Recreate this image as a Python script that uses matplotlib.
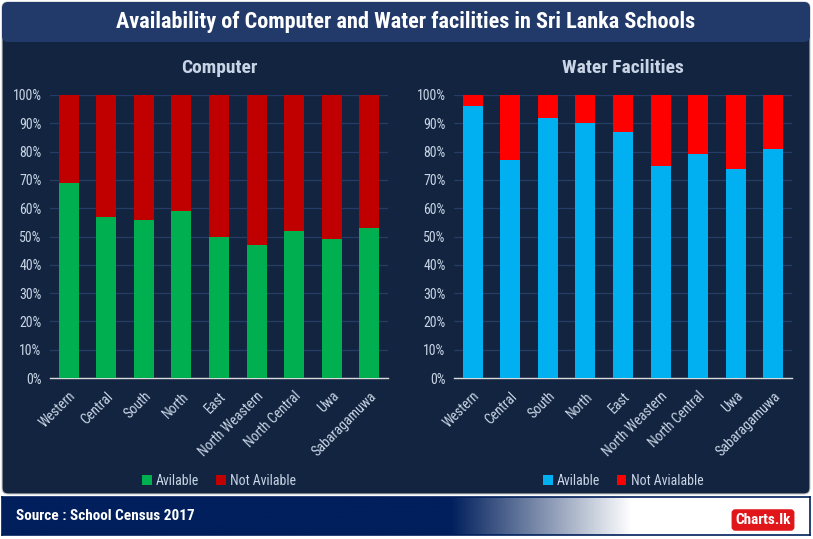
import matplotlib
matplotlib.use("Agg")
import matplotlib.pyplot as plt
import numpy as np
from matplotlib.patches import FancyBboxPatch

plt.rcParams["font.family"] = ["Roboto Condensed", "Liberation Sans Narrow", "Roboto", "DejaVu Sans"]

regions = ["Western", "Central", "South", "North", "East",
           "North Weastern", "North Central", "Uwa", "Sabaragamuwa"]
computer_avail = [69, 57, 56, 59, 50, 47, 52, 49, 53]
water_avail = [96, 77, 92, 90, 87, 75, 79, 74, 81]
yticks = [0, 10, 20, 30, 40, 50, 60, 70, 80, 90, 100]

PANEL = "#12243f"
BAND = "#213a6a"
TEXT = "#c9d5e6"
GRID = "#243c66"

W, H = 813, 539
fig = plt.figure(figsize=(W / 100, H / 100), dpi=100)
fig.patch.set_facecolor("white")


def px(x0, y0, x1, y1):
    # pixel box (top-left origin) -> figure fraction [l, b, w, h]
    return [x0 / W, 1 - y1 / H, (x1 - x0) / W, (y1 - y0) / H]


# background: dark panel + title band, drawn in a figure-wide axes behind everything
bg = fig.add_axes([0, 0, 1, 1], zorder=-10)
bg.set_xlim(0, W)
bg.set_ylim(H, 0)
bg.axis("off")
bg.add_patch(FancyBboxPatch((2, 2), 808, 492, boxstyle="round,pad=0,rounding_size=6",
                            facecolor=PANEL, edgecolor="#c8c8c8", linewidth=0.8))
bg.add_patch(FancyBboxPatch((2, 2), 808, 40, boxstyle="round,pad=0,rounding_size=6",
                            facecolor=BAND, edgecolor="none"))
bg.text(406, 22, "Availability of Computer and Water facilities in Sri Lanka Schools",
        ha="center", va="center", color="white", fontsize=16, fontweight="bold")

# footer with gradient
fax = fig.add_axes(px(2, 497, 810, 535))
grad = np.ones((2, 808, 3))
navy = np.array([0x00, 0x1f, 0x5c]) / 255
xs = np.arange(808) + 2
t = np.clip((xs - 450) / 180, 0, 1)
for c in range(3):
    grad[:, :, c] = navy[c] * (1 - t) + 1.0 * t
fax.imshow(grad, aspect="auto", extent=[0, 1, 0, 1])
fax.set_xlim(0, 1)
fax.set_ylim(0, 1)
fax.set_xticks([])
fax.set_yticks([])
for s in fax.spines.values():
    s.set_color("#001f5c")
    s.set_linewidth(1.2)
fig.text(16 / W, 1 - 516 / H, "Source : School Census 2017", ha="left", va="center",
         color="white", fontsize=11, fontweight="bold")
fig.text(763 / W, 1 - 520 / H, "Charts.lk", ha="center", va="center", color="white",
         fontsize=11, fontweight="bold",
         bbox=dict(boxstyle="round,pad=0.2", facecolor="#e0161b", edgecolor="#e0161b"))


def draw_panel(rect, title, avail, c_av, c_not, labels):
    ax = fig.add_axes(rect)
    ax.set_facecolor(PANEL)
    x = np.arange(len(regions))
    not_avail = [100 - v for v in avail]
    ax.bar(x, avail, width=0.53, color=c_av, zorder=3, label=labels[0])
    ax.bar(x, not_avail, bottom=avail, width=0.53, color=c_not, zorder=3, label=labels[1])
    ax.set_xlim(-0.5, len(regions) - 0.5)
    ax.set_ylim(0, 100)
    ax.set_yticks(yticks)
    ax.set_yticklabels([f"{v}%" for v in yticks])
    ax.yaxis.grid(True, color=GRID, linewidth=0.9, zorder=0)
    ax.set_xticks(x)
    ax.set_xticklabels(regions, rotation=45, ha="right", rotation_mode="anchor")
    ax.tick_params(axis="both", length=0, colors=TEXT, labelsize=10)
    ax.tick_params(axis="x", pad=8)
    ax.tick_params(axis="y", pad=6)
    for s in ["top", "right", "left"]:
        ax.spines[s].set_visible(False)
    ax.spines["bottom"].set_color("#d9d9d9")
    ax.spines["bottom"].set_linewidth(1)
    ax.set_title(title, color=TEXT, fontsize=14, fontweight="bold", pad=16)
    ax.legend(loc="upper center", bbox_to_anchor=(0.5, -0.295), ncol=2, frameon=False,
              fontsize=10, labelcolor=TEXT, handlelength=0.7, handleheight=0.7,
              handletextpad=0.3, columnspacing=1.2)
    return ax


draw_panel(px(50, 95, 388, 378), "Computer", computer_avail, "#00b050", "#c00000",
           ["Avilable", "Not Avilable"])
draw_panel(px(454, 95, 792, 378), "Water Facilities", water_avail, "#00b0f0", "#ff0000",
           ["Avilable", "Not Avialable"])

fig.savefig("out.png", dpi=100, facecolor=fig.get_facecolor())
